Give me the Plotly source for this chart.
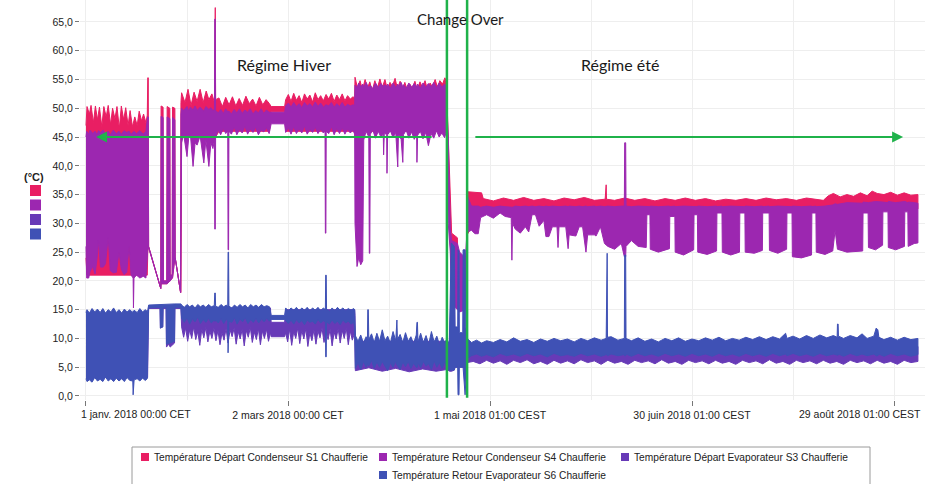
import plotly.graph_objects as go
import pandas as pd

START = pd.Timestamp("2018-01-01 00:00")

# ---------------------------------------------------------------
# Data: envelope of each (very dense) series
# (day offset from 1 Jan 2018 00:00 CET, upper value °C, lower value °C)
# ---------------------------------------------------------------
s1_env = [  # Température Départ Condenseur S1
    (0.0, 47.0, 24.0), (0.3, 50.3, 21.0), (1.0, 49.0, 21.0), (1.5, 50.5, 21.0), (2.2, 47.5, 21.0),
    (2.8, 50.4, 21.0), (3.4, 48.0, 21.0), (4.0, 50.2, 21.0), (4.7, 46.8, 21.0), (5.3, 50.3, 21.0),
    (6.0, 48.5, 21.0), (6.6, 50.5, 21.0), (7.3, 47.2, 21.0), (7.9, 50.0, 21.0), (8.6, 48.2, 21.0),
    (9.2, 50.3, 21.0), (9.9, 46.5, 21.0), (10.5, 50.4, 21.0), (11.2, 48.0, 21.0), (11.8, 50.1, 21.0),
    (12.5, 47.0, 21.0), (13.1, 49.6, 21.0), (13.8, 46.8, 21.0), (14.5, 48.5, 21.0), (15.2, 47.0, 21.0),
    (15.8, 49.5, 21.0), (16.5, 47.8, 21.0), (17.1, 49.0, 21.0), (17.8, 47.5, 21.0), (18.2, 48.8, 21.0),
    (18.35, 55.3, 25.0), (18.5, 55.3, 26.0), (18.6, 26.0, 26.0), (22.2, 18.7, 18.7), (22.3, 50.4, 19.5),
    (22.9, 50.2, 19.5), (23.0, 20.0, 19.5), (24.0, 20.0, 19.5), (24.1, 50.3, 19.5), (24.9, 50.0, 20.0),
    (25.0, 21.0, 20.0), (25.6, 21.0, 20.5), (25.7, 50.2, 20.5), (26.4, 50.0, 24.0), (26.5, 24.0, 24.0),
    (28.1, 18.0, 18.0), (28.2, 51.0, 18.0), (28.4, 52.7, 45.0), (29.4, 51.0, 45.0), (30.3, 53.3, 45.0),
    (31.2, 50.5, 45.0), (32.1, 52.8, 45.0), (33.0, 51.2, 45.0), (33.9, 53.3, 45.0), (34.8, 51.0, 45.0),
    (35.7, 53.0, 45.0), (36.5, 51.5, 45.0), (37.4, 52.5, 45.0), (38.15, 51.0, 45.0), (38.25, 67.5, 45.0),
    (38.4, 67.5, 45.0), (38.5, 51.5, 45.0), (39.5, 51.8, 46.0), (40.5, 50.3, 46.0), (41.5, 51.9, 46.0),
    (42.5, 50.6, 46.0), (43.5, 52.0, 46.0), (44.5, 50.4, 46.0), (45.5, 51.7, 46.0), (46.5, 50.5, 46.0),
    (47.5, 52.1, 46.0), (48.5, 50.8, 46.0), (49.5, 51.6, 46.0), (50.5, 50.4, 46.0), (51.5, 51.9, 46.0),
    (52.5, 50.6, 46.0), (53.5, 51.5, 46.0), (54.5, 50.8, 46.0), (55.0, 50.3, 49.4), (59.0, 50.3, 49.4),
    (59.3, 51.5, 46.0), (60.1, 52.4, 46.0), (60.9, 51.2, 46.0), (61.7, 52.6, 46.0), (62.5, 51.4, 46.0),
    (63.3, 52.2, 46.0), (64.1, 51.0, 46.0), (64.9, 52.5, 46.0), (65.7, 51.6, 46.0), (66.5, 52.3, 46.0),
    (67.3, 51.1, 46.0), (68.1, 52.7, 46.0), (68.9, 51.5, 46.0), (69.7, 52.2, 46.0), (70.5, 51.3, 46.0),
    (71.3, 52.4, 46.0), (72.1, 51.6, 46.0), (72.9, 52.6, 46.0), (73.7, 51.2, 46.0), (74.5, 52.3, 46.0),
    (75.3, 51.5, 46.0), (76.1, 52.5, 46.0), (76.9, 51.3, 46.0), (77.7, 52.2, 46.0), (78.5, 51.6, 46.0),
    (79.3, 52.0, 46.0), (79.8, 51.8, 46.0), (79.9, 55.4, 45.0), (80.6, 53.6, 46.0), (81.4, 54.8, 46.0),
    (82.1, 53.2, 46.0), (82.9, 55.0, 46.0), (83.6, 53.5, 46.0), (84.3, 54.6, 46.0), (85.0, 53.0, 46.0),
    (85.8, 54.8, 46.0), (86.5, 53.4, 46.0), (87.3, 55.1, 46.0), (88.0, 53.6, 46.0), (88.8, 55.0, 46.0),
    (89.5, 53.3, 46.0), (90.3, 54.5, 46.0), (91.0, 53.8, 46.0), (91.8, 55.2, 46.0), (92.5, 53.4, 46.0),
    (93.3, 54.7, 46.0), (94.0, 53.1, 46.0), (94.7, 54.5, 46.0), (95.5, 53.0, 46.0), (96.2, 54.2, 46.0),
    (96.9, 53.5, 46.0), (97.7, 54.7, 46.0), (98.4, 53.2, 46.0), (99.2, 54.6, 46.0), (99.9, 53.6, 46.0),
    (100.7, 54.8, 46.0), (101.4, 53.3, 46.0), (102.2, 54.4, 46.0), (102.9, 53.7, 46.0), (103.7, 55.0, 46.0),
    (104.4, 53.6, 46.0), (105.1, 54.8, 46.0), (105.9, 54.2, 46.0), (106.6, 55.3, 46.0), (107.1, 54.5, 46.0),
    (107.3, 50.0, 40.0), (108.1, 35.0, 28.0), (108.6, 28.3, 22.0), (110.3, 27.5, 20.0), (110.8, 19.0, 15.0),
    (112.4, 18.5, 15.5), (113.0, 17.0, 16.0), (113.2, 35.5, 28.0), (117.5, 35.3, 32.3), (118.0, 34.3, 32.3),
    (121.0, 33.9, 32.3), (124.0, 34.4, 32.3), (127.0, 34.0, 32.3), (130.0, 34.5, 32.3), (133.0, 34.0, 32.3),
    (136.0, 34.3, 32.3), (139.0, 33.9, 32.3), (142.0, 34.4, 32.3), (145.0, 34.1, 32.3), (148.0, 34.5, 32.3),
    (151.0, 34.0, 32.3), (154.2, 34.2, 32.3), (154.3, 36.7, 32.3), (154.5, 36.7, 32.3), (154.6, 34.2, 32.3),
    (157.0, 34.0, 32.3), (160.0, 34.4, 32.3), (163.0, 34.0, 32.3), (166.0, 34.3, 32.3), (169.0, 33.9, 32.3),
    (172.0, 34.3, 32.3), (175.0, 34.0, 32.3), (178.0, 34.4, 32.3), (181.0, 34.0, 32.3), (184.0, 34.3, 32.3),
    (187.0, 33.9, 32.3), (190.0, 34.2, 32.3), (193.0, 34.0, 32.3), (196.0, 34.3, 32.3), (199.0, 34.0, 32.3),
    (202.0, 34.4, 32.3), (205.0, 34.1, 32.3), (208.0, 34.3, 32.3), (211.0, 34.0, 32.3), (214.0, 34.4, 32.3),
    (217.0, 34.2, 32.3), (219.0, 34.0, 32.3), (220.5, 34.8, 32.3), (222.0, 35.2, 32.3), (224.0, 34.6, 32.3),
    (226.0, 35.0, 32.3), (228.0, 34.7, 32.3), (230.0, 35.3, 32.3), (232.0, 34.8, 32.3), (233.5, 35.6, 32.3),
    (235.0, 35.2, 32.3), (237.0, 35.0, 32.3), (239.0, 35.4, 32.3), (241.0, 34.9, 32.3), (243.0, 35.3, 32.3),
    (245.0, 34.9, 32.3), (247.1, 35.0, 32.5),
]

s4_env = [  # Température Retour Condenseur S4
    (0.0, 45.0, 26.0), (0.2, 46.0, 20.5), (0.8, 45.5, 20.5), (1.2, 46.2, 21.6), (2.0, 45.6, 22.5),
    (2.7, 46.0, 21.2), (3.3, 45.4, 24.0), (3.7, 46.1, 27.0), (4.3, 45.8, 22.4), (5.1, 46.2, 22.4),
    (5.8, 45.5, 23.0), (6.6, 46.0, 27.6), (7.2, 45.4, 21.8), (8.1, 46.2, 21.4), (9.0, 45.6, 21.5),
    (9.8, 46.0, 25.0), (10.5, 45.5, 22.0), (11.3, 46.1, 21.1), (12.1, 45.8, 21.5), (12.8, 46.0, 26.0),
    (13.4, 45.5, 21.0), (14.0, 46.0, 20.5), (14.1, 46.0, 15.3), (14.25, 46.0, 20.5), (15.0, 45.6, 21.0),
    (16.0, 46.1, 20.5), (17.0, 45.5, 20.8), (17.8, 46.0, 20.5), (18.3, 48.5, 25.0), (18.5, 48.5, 26.0),
    (18.6, 26.0, 26.0), (22.2, 18.7, 18.7), (22.3, 48.6, 19.5), (22.9, 48.4, 19.5), (23.0, 20.0, 19.5),
    (24.0, 20.0, 19.5), (24.1, 48.5, 19.5), (24.9, 48.2, 20.0), (25.0, 21.0, 20.0), (25.6, 21.0, 20.5),
    (25.7, 48.4, 20.5), (26.4, 48.0, 24.0), (26.5, 24.0, 24.0), (28.1, 18.0, 18.0), (28.2, 49.0, 18.0),
    (28.4, 50.0, 44.0), (29.0, 49.6, 45.5), (30.0, 50.3, 41.6), (30.5, 49.5, 44.8), (31.0, 50.2, 45.5),
    (31.8, 49.7, 39.9), (32.4, 50.4, 44.0), (33.0, 49.6, 43.6), (33.9, 50.2, 45.2), (35.0, 49.5, 40.5),
    (35.6, 50.3, 44.5), (36.5, 49.8, 39.9), (37.1, 50.1, 44.0), (37.7, 49.6, 43.0), (38.15, 49.8, 44.5),
    (38.25, 65.5, 29.0), (38.4, 65.5, 29.0), (38.5, 49.6, 45.0), (39.3, 49.2, 46.2), (40.0, 49.8, 45.4),
    (40.8, 49.1, 46.5), (41.5, 49.9, 45.6), (42.1, 49.3, 46.0), (42.2, 49.3, 25.4), (42.35, 49.5, 25.4),
    (42.45, 49.5, 46.0), (43.2, 49.0, 45.5), (44.0, 49.8, 46.8), (44.8, 49.2, 45.4), (45.6, 49.9, 46.3),
    (46.4, 49.1, 45.7), (47.2, 49.7, 46.9), (48.0, 49.3, 45.5), (48.8, 49.9, 46.4), (49.6, 49.0, 45.8),
    (50.4, 49.6, 46.7), (51.2, 49.2, 45.4), (52.0, 49.9, 46.2), (52.8, 49.1, 45.9), (53.6, 49.7, 46.6),
    (54.4, 49.3, 45.6), (55.0, 49.3, 47.3), (59.0, 49.3, 47.3), (59.3, 50.4, 45.8), (60.1, 50.9, 46.6),
    (60.9, 50.2, 45.5), (61.7, 51.0, 46.8), (62.5, 50.3, 45.6), (63.3, 50.8, 46.4), (64.1, 50.1, 45.7),
    (64.9, 51.0, 46.9), (65.7, 50.4, 45.5), (66.5, 50.8, 46.3), (67.3, 50.2, 45.8), (68.1, 51.1, 46.7),
    (68.9, 50.3, 45.6), (69.7, 50.9, 46.4), (70.5, 50.2, 45.7), (71.0, 50.6, 46.0), (71.1, 50.6, 28.3),
    (71.25, 50.6, 28.3), (71.35, 50.6, 46.0), (72.1, 50.4, 45.6), (72.9, 51.0, 46.8), (73.7, 50.2, 45.4),
    (74.5, 50.8, 46.5), (75.3, 50.3, 45.6), (76.1, 51.0, 46.6), (76.9, 50.2, 45.5), (77.7, 50.7, 46.4),
    (78.5, 50.4, 45.7), (79.3, 50.6, 46.2), (79.8, 50.5, 45.5), (79.9, 54.0, 30.0), (80.5, 53.6, 22.5),
    (81.0, 54.4, 24.0), (81.6, 53.7, 22.8), (82.2, 54.2, 23.5), (82.5, 53.6, 44.5), (83.2, 54.5, 46.0),
    (84.0, 53.5, 45.0), (84.15, 53.8, 24.8), (84.3, 53.8, 24.8), (84.45, 54.0, 45.5), (85.2, 53.4, 46.2),
    (86.0, 54.4, 44.8), (86.8, 53.6, 46.0), (87.6, 54.3, 45.0), (88.3, 53.7, 45.5), (88.4, 53.7, 41.9),
    (88.6, 54.1, 45.6), (89.3, 53.8, 45.5), (89.4, 53.8, 38.7), (89.6, 54.2, 45.4), (90.4, 53.5, 46.1),
    (91.2, 54.4, 44.9), (92.0, 53.6, 45.8), (92.6, 54.2, 39.8), (92.8, 53.8, 45.5), (93.6, 54.5, 44.6),
    (94.1, 53.7, 40.6), (94.3, 54.1, 45.4), (95.1, 53.5, 46.2), (95.9, 54.4, 44.8), (96.7, 53.6, 45.9),
    (97.5, 54.3, 44.6), (98.2, 53.7, 45.5), (98.3, 53.7, 40.6), (98.5, 54.2, 45.3), (99.3, 53.5, 46.0),
    (100.1, 54.4, 44.7), (100.9, 53.6, 45.8), (101.7, 54.3, 43.5), (102.5, 53.7, 45.6), (103.3, 54.5, 44.8),
    (104.1, 53.6, 46.1), (104.9, 54.4, 45.0), (105.7, 53.7, 45.7), (106.5, 54.2, 44.9), (107.1, 53.8, 46.0),
    (107.2, 50.0, 44.0), (107.6, 45.0, 30.0), (108.2, 29.0, 25.0), (108.6, 27.0, 16.0), (110.3, 26.5, 15.0),
    (111.0, 25.0, 14.6), (112.7, 24.0, 15.0), (113.1, 28.0, 27.0), (113.25, 34.8, 28.5), (114.5, 33.0, 28.8),
    (115.5, 33.0, 28.2), (116.5, 33.0, 28.2), (117.2, 32.8, 31.0), (119.0, 33.0, 31.5), (121.0, 32.8, 30.9),
    (123.0, 33.0, 31.8), (124.5, 32.9, 31.2), (126.3, 32.8, 31.0), (126.5, 32.8, 23.6), (126.7, 32.8, 30.0),
    (127.5, 33.0, 29.0), (129.0, 32.9, 28.3), (130.5, 33.0, 29.4), (131.5, 32.9, 28.5), (132.5, 33.0, 31.5),
    (133.5, 32.9, 31.5), (134.6, 33.0, 29.5), (136.0, 32.9, 30.5), (136.6, 33.0, 27.7), (137.5, 32.9, 27.7),
    (138.5, 33.0, 29.4), (139.9, 32.9, 29.4), (140.2, 33.0, 25.8), (140.5, 32.9, 29.4), (142.5, 33.0, 29.4),
    (143.2, 32.9, 25.6), (143.5, 33.0, 28.0), (145.5, 32.9, 27.8), (146.5, 33.0, 29.4), (147.5, 32.9, 29.4),
    (148.5, 33.0, 25.0), (149.0, 32.9, 28.0), (151.0, 33.0, 28.0), (151.5, 32.9, 27.8), (152.8, 33.0, 29.4),
    (154.0, 32.9, 26.5), (155.0, 33.0, 26.0), (157.0, 32.9, 25.5), (159.0, 33.0, 26.5), (159.9, 33.0, 24.2),
    (160.0, 44.0, 24.2), (160.3, 44.0, 24.2), (160.4, 33.0, 26.0), (162.0, 32.9, 27.0), (164.0, 33.0, 26.0),
    (166.4, 32.9, 25.8), (166.6, 33.0, 31.5), (167.5, 32.9, 31.5), (167.6, 33.0, 25.5), (170.0, 32.9, 25.0),
    (173.3, 33.0, 25.6), (173.4, 32.9, 31.2), (174.9, 33.0, 31.2), (175.0, 32.9, 25.0), (177.5, 33.0, 24.5),
    (180.5, 32.9, 25.4), (180.6, 33.0, 31.5), (181.6, 32.9, 31.5), (181.7, 33.0, 25.0), (184.5, 32.9, 24.6),
    (187.3, 33.0, 25.2), (187.4, 32.9, 31.8), (188.9, 33.0, 31.8), (189.0, 32.9, 25.0), (191.5, 33.0, 24.5),
    (194.1, 32.9, 25.0), (194.2, 33.0, 31.8), (195.7, 32.9, 31.8), (195.8, 33.0, 25.0), (198.5, 32.9, 24.8),
    (200.9, 33.0, 25.3), (201.0, 32.9, 31.8), (202.9, 33.0, 31.8), (203.0, 32.9, 25.3), (205.5, 33.0, 24.8),
    (208.1, 32.9, 25.5), (208.2, 33.0, 31.8), (209.7, 32.9, 31.8), (209.8, 33.0, 24.2), (212.5, 32.9, 24.0),
    (215.5, 33.0, 24.5), (215.6, 32.9, 31.8), (216.8, 33.0, 31.8), (216.9, 32.9, 25.0), (219.5, 33.0, 24.6),
    (221.8, 33.2, 25.2), (222.5, 33.4, 28.8), (223.2, 33.3, 25.5), (226.0, 33.6, 25.0), (230.7, 33.5, 25.2),
    (230.8, 33.7, 31.8), (232.3, 33.6, 31.8), (232.4, 33.6, 25.8), (234.5, 33.8, 25.4), (236.6, 33.6, 26.2),
    (236.7, 33.7, 32.0), (238.2, 33.6, 32.0), (238.3, 33.8, 25.8), (240.5, 33.6, 25.4), (243.1, 33.7, 26.0),
    (243.2, 33.8, 32.0), (244.1, 33.6, 32.0), (244.2, 33.7, 26.0), (246.0, 33.6, 26.5), (247.1, 33.5, 26.6),
]

s3_env = [  # Température Départ Evaporateur S3
    (0.0, 14.2, 3.2), (9.0, 14.3, 3.3), (18.3, 14.2, 3.2), (18.5, 15.0, 3.5), (18.6, 15.6, 15.2),
    (22.0, 15.6, 15.2), (22.1, 15.6, 11.8), (22.8, 15.6, 12.0), (22.9, 15.6, 15.2), (23.8, 15.6, 15.2),
    (23.9, 15.6, 8.5), (24.6, 15.6, 9.0), (25.0, 15.6, 8.5), (26.3, 15.6, 9.2), (26.4, 15.6, 15.2),
    (28.2, 15.6, 15.2), (28.4, 15.3, 12.0), (29.0, 15.3, 10.2), (29.6, 15.3, 11.8), (30.2, 15.3, 9.5),
    (30.8, 15.3, 11.5), (31.4, 15.3, 10.0), (32.0, 15.3, 12.0), (32.6, 15.3, 9.8), (33.2, 15.3, 11.2),
    (33.8, 15.3, 8.8), (34.4, 15.3, 11.6), (35.0, 15.3, 10.1), (35.6, 15.3, 11.9), (36.2, 15.3, 9.4),
    (36.8, 15.3, 11.3), (37.4, 15.3, 10.0), (38.0, 15.3, 11.8), (38.6, 15.3, 9.6), (39.2, 15.3, 11.4),
    (39.8, 15.3, 8.9), (40.4, 15.3, 11.0), (41.0, 15.3, 9.7), (41.6, 15.3, 11.7), (42.2, 15.3, 9.2),
    (42.8, 15.3, 11.5), (43.4, 15.3, 10.3), (44.0, 15.3, 11.8), (44.6, 15.3, 9.0), (45.2, 15.3, 11.2),
    (45.8, 15.3, 9.9), (46.4, 15.3, 11.6), (47.0, 15.3, 8.7), (47.6, 15.3, 11.4), (48.2, 15.3, 10.2),
    (48.8, 15.3, 11.9), (49.4, 15.3, 9.3), (50.0, 15.3, 11.1), (50.6, 15.3, 9.8), (51.2, 15.3, 11.7),
    (51.8, 15.3, 8.9), (52.4, 15.3, 11.3), (53.0, 15.3, 10.0), (53.6, 15.3, 11.6), (54.2, 15.3, 9.5),
    (54.8, 15.3, 11.0), (55.0, 12.8, 10.3), (59.0, 12.8, 10.3), (59.3, 15.0, 11.0), (59.9, 15.0, 9.4),
    (60.5, 15.0, 11.6), (61.1, 15.0, 8.8), (61.7, 15.0, 11.2), (62.3, 15.0, 10.0), (62.9, 15.0, 11.8),
    (63.5, 15.0, 9.1), (64.1, 15.0, 11.4), (64.7, 15.0, 9.9), (65.3, 15.0, 11.7), (65.9, 15.0, 8.6),
    (66.5, 15.0, 11.0), (67.1, 15.0, 9.6), (67.7, 15.0, 11.5), (68.3, 15.0, 9.0), (68.9, 15.0, 11.3),
    (69.5, 15.0, 10.1), (70.1, 15.0, 11.8), (70.7, 15.0, 9.3), (71.3, 15.0, 11.2), (71.9, 15.0, 9.8),
    (72.5, 15.0, 11.6), (73.1, 15.0, 8.7), (73.7, 15.0, 11.1), (74.3, 15.0, 9.9), (74.9, 15.0, 11.7),
    (75.5, 15.0, 9.2), (76.1, 15.0, 11.4), (76.7, 15.0, 10.0), (77.3, 15.0, 11.8), (77.9, 15.0, 8.9),
    (78.5, 15.0, 11.3), (79.1, 15.0, 9.7), (79.8, 15.0, 11.0), (79.9, 14.0, 8.0), (80.0, 9.5, 4.4),
    (84.0, 9.5, 4.9), (88.0, 9.5, 4.3), (92.0, 9.5, 4.8), (96.0, 9.5, 4.2), (100.0, 9.5, 4.7),
    (104.0, 9.5, 4.3), (107.2, 9.5, 4.6), (108.0, 9.0, 4.3), (108.6, 22.0, 4.3), (109.4, 21.0, 4.5),
    (109.6, 10.0, 5.0), (112.8, 10.0, 5.0), (113.2, 9.0, 5.8), (115.0, 8.6, 6.0), (117.0, 8.6, 5.6),
    (119.0, 8.6, 6.2), (121.0, 8.6, 5.7), (123.0, 8.6, 6.1), (125.0, 8.6, 5.5), (127.0, 8.6, 6.2),
    (129.0, 8.6, 5.8), (131.0, 8.6, 6.3), (133.0, 8.6, 5.6), (135.0, 8.6, 6.0), (137.0, 8.6, 5.5),
    (139.0, 8.6, 6.2), (141.0, 8.6, 5.7), (143.0, 8.6, 6.1), (145.0, 8.6, 5.6), (147.0, 8.6, 6.3),
    (149.0, 8.6, 5.8), (151.0, 8.6, 6.1), (153.0, 8.6, 5.5), (155.0, 8.6, 6.2), (157.0, 8.6, 5.7),
    (159.0, 8.6, 6.0), (161.0, 8.6, 5.5), (163.0, 8.6, 6.2), (165.0, 8.6, 5.8), (167.0, 8.6, 6.1),
    (169.0, 8.6, 5.6), (171.0, 8.6, 6.3), (173.0, 8.6, 5.7), (175.0, 8.6, 6.0), (177.0, 8.6, 5.5),
    (179.0, 8.6, 6.2), (181.0, 8.6, 5.8), (183.0, 8.6, 6.1), (185.0, 8.6, 5.6), (187.0, 8.6, 6.2),
    (189.0, 8.6, 5.7), (191.0, 8.6, 6.0), (193.0, 8.6, 5.5), (195.0, 8.6, 6.2), (197.0, 8.6, 5.8),
    (199.0, 8.6, 6.1), (201.0, 8.6, 5.6), (203.0, 8.6, 6.3), (205.0, 8.6, 5.7), (207.0, 8.6, 6.0),
    (209.0, 8.6, 5.5), (211.0, 8.6, 6.2), (213.0, 8.6, 5.8), (215.0, 8.6, 6.1), (217.0, 8.6, 5.6),
    (219.0, 8.6, 6.2), (221.0, 8.6, 5.7), (223.0, 8.6, 6.0), (225.0, 8.6, 5.5), (227.0, 8.6, 6.2),
    (229.0, 8.6, 5.8), (231.0, 8.6, 6.1), (233.0, 8.6, 5.6), (235.0, 8.6, 6.2), (237.0, 8.6, 5.7),
    (239.0, 8.6, 6.0), (241.0, 8.6, 5.5), (243.0, 8.6, 6.2), (245.0, 8.6, 5.8), (247.1, 8.6, 6.0),
]

s6_env = [  # Température Retour Evaporateur S6
    (0.0, 14.5, 3.0), (0.3, 15.0, 2.5), (1.0, 14.4, 2.8), (1.8, 15.2, 2.4), (2.6, 14.6, 3.2),
    (3.4, 15.1, 2.6), (4.2, 14.5, 2.9), (5.0, 15.2, 2.5), (5.8, 14.4, 3.3), (6.6, 15.0, 2.6),
    (7.4, 14.6, 3.0), (8.2, 15.3, 2.5), (9.0, 14.5, 3.1), (9.8, 15.0, 2.6), (10.6, 14.4, 3.0),
    (11.4, 15.1, 2.5), (12.2, 14.6, 3.2), (13.0, 15.0, 2.7), (13.9, 14.5, 2.6), (14.0, 14.8, 0.2),
    (14.2, 14.6, 0.2), (14.3, 14.9, 2.8), (15.2, 14.5, 3.0), (16.0, 15.2, 2.6), (16.8, 14.6, 3.1),
    (17.6, 15.0, 2.7), (18.2, 14.7, 3.0), (18.4, 15.0, 3.0), (18.6, 15.8, 15.3), (22.0, 15.9, 15.4),
    (22.1, 15.9, 11.8), (22.8, 15.9, 12.0), (22.9, 16.0, 15.4), (23.8, 16.0, 15.4), (23.9, 16.0, 9.0),
    (26.3, 16.0, 9.5), (26.4, 16.0, 15.4), (28.2, 16.0, 15.3), (28.4, 15.8, 13.5), (29.2, 15.4, 12.8),
    (30.0, 15.9, 13.6), (30.8, 15.5, 12.5), (31.6, 15.8, 13.4), (32.4, 15.3, 12.9), (33.2, 15.9, 13.7),
    (34.0, 15.5, 12.6), (34.8, 15.8, 13.3), (35.6, 15.4, 12.8), (36.4, 15.9, 13.5), (37.2, 15.5, 12.7),
    (38.1, 15.7, 13.2), (38.25, 17.9, 13.0), (38.4, 17.9, 13.0), (38.5, 15.6, 13.2), (39.3, 15.4, 12.7),
    (40.1, 15.9, 13.5), (40.9, 15.5, 12.6), (41.7, 15.8, 13.4), (42.1, 15.5, 13.0), (42.2, 25.0, 7.5),
    (42.35, 25.0, 7.5), (42.45, 15.6, 13.0), (43.3, 15.3, 12.8), (44.1, 15.8, 13.6), (44.9, 15.4, 12.5),
    (45.7, 15.9, 13.4), (46.5, 15.5, 12.9), (47.3, 15.8, 13.6), (48.1, 15.3, 12.6), (48.9, 15.9, 13.3),
    (49.7, 15.5, 12.8), (50.5, 15.8, 13.5), (51.3, 15.4, 12.7), (52.1, 15.9, 13.4), (52.9, 15.5, 12.9),
    (53.7, 15.7, 13.5), (54.5, 15.5, 13.0), (55.0, 14.0, 13.3), (59.0, 14.0, 13.3), (59.3, 15.3, 13.0),
    (60.1, 14.8, 12.6), (60.9, 15.3, 13.2), (61.7, 14.9, 12.5), (62.5, 15.4, 13.3), (63.3, 14.8, 12.7),
    (64.1, 15.3, 13.1), (64.9, 14.9, 12.4), (65.7, 15.4, 13.2), (66.5, 14.8, 12.8), (67.3, 15.3, 13.0),
    (68.1, 14.9, 12.5), (68.9, 15.4, 13.3), (69.7, 14.8, 12.7), (70.5, 15.3, 13.1), (71.1, 15.0, 12.8),
    (71.2, 21.0, 6.8), (71.35, 21.0, 6.8), (71.45, 15.1, 12.9), (72.3, 14.7, 12.5), (73.1, 15.3, 13.2),
    (73.9, 14.8, 12.6), (74.7, 15.4, 13.0), (75.5, 14.9, 12.4), (76.3, 15.3, 13.2), (77.1, 14.8, 12.7),
    (77.9, 15.2, 13.0), (78.7, 14.9, 12.5), (79.5, 15.2, 12.8), (79.8, 15.0, 12.0), (80.0, 10.5, 4.8),
    (80.8, 9.5, 5.8), (81.6, 10.6, 4.6), (82.4, 9.2, 6.0), (83.2, 10.3, 5.0), (83.6, 10.0, 5.5),
    (83.7, 15.0, 5.5), (83.85, 15.0, 5.5), (84.0, 9.8, 5.2), (84.8, 10.8, 6.2), (85.6, 9.3, 4.8),
    (86.4, 10.9, 5.9), (87.2, 9.5, 5.0), (88.0, 11.5, 6.0), (88.8, 9.6, 5.2), (89.6, 10.4, 4.4),
    (90.4, 9.2, 5.8), (91.2, 11.2, 5.0), (92.0, 9.6, 6.1), (92.2, 13.2, 5.5), (92.35, 13.2, 5.5),
    (92.5, 9.8, 5.3), (93.3, 10.7, 4.6), (94.1, 9.3, 5.9), (94.9, 11.0, 5.1), (95.7, 9.5, 6.0),
    (96.5, 10.3, 4.8), (97.3, 9.1, 5.7), (98.1, 10.6, 5.0), (98.3, 12.8, 5.0), (98.45, 12.8, 5.0),
    (98.6, 9.4, 5.8), (99.4, 10.9, 4.9), (100.2, 9.3, 6.0), (101.0, 10.5, 5.2), (101.8, 9.0, 5.6),
    (102.6, 11.2, 4.6), (103.4, 9.4, 6.1), (104.2, 10.4, 5.0), (105.0, 8.9, 5.8), (105.8, 10.2, 4.8),
    (106.6, 9.2, 6.0), (107.2, 10.0, 5.0), (107.9, 9.0, 4.5), (108.5, 26.6, 4.5), (109.4, 26.0, 4.5),
    (109.6, 12.0, 5.0), (110.4, 12.0, 5.0), (110.5, 25.4, 0.2), (110.8, 25.0, 0.2), (110.9, 11.0, 5.0),
    (111.9, 11.0, 5.0), (112.0, 25.4, 5.0), (112.6, 25.4, 0.2), (112.8, 12.0, 0.2), (113.2, 10.0, 6.5),
    (114.5, 9.3, 7.0), (116.0, 9.7, 7.3), (117.5, 9.2, 6.9), (119.0, 9.6, 7.2), (121.0, 9.3, 6.8),
    (123.0, 9.8, 7.4), (125.0, 9.4, 7.0), (127.0, 10.1, 7.3), (129.0, 9.5, 6.9), (131.0, 9.8, 7.4),
    (133.0, 9.3, 7.0), (135.0, 9.9, 7.3), (137.0, 9.5, 6.8), (139.0, 10.0, 7.4), (141.0, 9.6, 7.0),
    (143.0, 9.9, 7.2), (145.0, 9.4, 6.9), (147.0, 10.0, 7.4), (149.0, 9.6, 7.0), (151.0, 10.1, 7.3),
    (153.0, 9.7, 6.9), (154.5, 10.0, 7.2), (154.6, 24.8, 7.2), (154.8, 24.8, 7.2), (154.9, 10.2, 7.0),
    (156.0, 10.3, 7.3), (158.0, 9.7, 7.0), (159.9, 10.0, 7.2), (160.0, 24.5, 7.0), (160.3, 24.5, 7.0),
    (160.4, 10.0, 7.3), (162.0, 9.6, 6.9), (164.0, 10.1, 7.4), (166.0, 9.5, 7.0), (168.0, 9.9, 7.3),
    (170.0, 9.4, 6.9), (172.0, 10.0, 7.4), (174.0, 9.6, 7.0), (176.0, 10.1, 7.3), (178.0, 9.5, 6.9),
    (180.0, 9.9, 7.4), (182.0, 9.6, 7.0), (184.0, 10.1, 7.3), (186.0, 9.7, 6.9), (188.0, 10.2, 7.4),
    (190.0, 9.6, 7.0), (192.0, 10.0, 7.3), (194.0, 9.7, 6.9), (196.0, 10.2, 7.4), (198.0, 9.8, 7.0),
    (200.0, 10.3, 7.3), (202.0, 9.8, 6.9), (204.0, 10.3, 7.4), (206.0, 9.9, 7.0), (207.8, 10.9, 7.3),
    (208.2, 10.0, 7.0), (210.0, 10.4, 7.4), (212.0, 9.9, 7.0), (214.0, 10.5, 7.3), (216.0, 10.0, 6.9),
    (218.0, 10.6, 7.4), (220.0, 10.1, 7.0), (222.0, 10.5, 7.3), (223.1, 10.2, 7.1), (223.2, 12.5, 7.1),
    (223.4, 12.5, 7.1), (223.5, 10.4, 7.3), (225.0, 10.0, 6.9), (227.0, 10.5, 7.4), (229.0, 10.1, 7.0),
    (230.5, 10.8, 7.3), (232.0, 10.0, 7.0), (234.0, 10.4, 7.3), (234.7, 11.8, 7.0), (235.2, 11.5, 7.0),
    (235.5, 10.2, 7.3), (237.0, 9.8, 6.9), (239.0, 10.2, 7.4), (241.0, 9.7, 7.0), (243.0, 10.2, 7.3),
    (245.0, 9.8, 6.9), (247.1, 10.0, 7.2),
]

series_names = [
    "Température Départ Condenseur S1 Chaufferie",
    "Température Retour Condenseur S4 Chaufferie",
    "Température Départ Evaporateur S3 Chaufferie",
    "Température Retour Evaporateur S6 Chaufferie",
]
series_colors = ["#E91E63", "#9C27B0", "#673AB7", "#3F51B5"]
series_envs = [s1_env, s4_env, s3_env, s6_env]

x_tick_days = [0, 60, 120, 180, 240]
x_tick_labels = ["1 janv. 2018 00:00 CET", "2 mars 2018 00:00 CET", "1 mai 2018 01:00 CEST",
                 "30 juin 2018 01:00 CEST", "29 août 2018 01:00 CEST"]
x_grid_days = [30, 90, 150, 210]

changeover_days = [107.2, 113.2]
hiver_arrow_days = (103.1, 3.0)     # tail, head
ete_arrow_days = (115.2, 242.7)     # tail, head
arrow_level = 45.0


def day(d):
    return START + pd.Timedelta(days=d)


GREEN = "#1fb24a"
FONT = "Liberation Sans"

fig = go.Figure()
for name, color, env in zip(series_names, series_colors, series_envs):
    d = [e[0] for e in env]
    hi = [e[1] for e in env]
    lo = [e[2] for e in env]
    xs = [day(v) for v in d + d[::-1]]
    ys = hi + lo[::-1]
    fig.add_trace(go.Scatter(x=xs, y=ys, mode="lines", fill="toself", fillcolor=color,
                             line=dict(color=color, width=1), name=name,
                             showlegend=False, hoverinfo="skip"))

# plot area in pixels (for the legend / unit label placed outside)
PL, PR, PT, PB = 80, 925, 0, 400


def px(x):
    return (x - PL) / (PR - PL)


def py(y):
    return 1 - (y - PT) / (PB - PT)


shapes = []
for dd in changeover_days:
    shapes.append(dict(type="line", xref="x", yref="y", x0=day(dd), x1=day(dd), y0=-0.3, y1=70,
                       line=dict(color=GREEN, width=2.5)))

annotations = []
# arrows
for tail, head in (hiver_arrow_days, ete_arrow_days):
    annotations.append(dict(x=day(head), y=arrow_level, ax=day(tail), ay=arrow_level,
                            xref="x", yref="y", axref="x", ayref="y", text="", showarrow=True,
                            arrowhead=2, arrowsize=1.1, arrowwidth=2, arrowcolor=GREEN, standoff=0))
# region texts
for txt, cx, cy, fs in (("Change Over", 460, 19, 15), ("Régime Hiver", 284, 65, 16), ("Régime été", 620, 65, 16)):
    annotations.append(dict(x=px(cx), y=py(cy), xref="paper", yref="paper", text=txt, showarrow=False,
                            xanchor="center", yanchor="middle", font=dict(family="Lato", size=fs, color="#1a1a1a")))

# first / last x labels (kept inside the plot like the original)
annotations.append(dict(x=day(x_tick_days[0]), y=py(406), xref="x", yref="paper", text=x_tick_labels[0],
                        showarrow=False, xanchor="left", yanchor="top", xshift=-7,
                        font=dict(family=FONT, size=10.5, color="#222")))
annotations.append(dict(x=day(x_tick_days[-1]), y=py(406), xref="x", yref="paper", text=x_tick_labels[-1],
                        showarrow=False, xanchor="right", yanchor="top", xshift=29,
                        font=dict(family=FONT, size=10.5, color="#222")))

# unit label with colour squares
annotations.append(dict(x=px(34), y=py(177), xref="paper", yref="paper", text="<b>(°C)</b>", showarrow=False,
                        xanchor="center", yanchor="middle", font=dict(family=FONT, size=11, color="#222")))
for i, color in enumerate(series_colors):
    y0 = 185 + i * 14.5
    shapes.append(dict(type="rect", xref="paper", yref="paper", x0=px(30), x1=px(41), y0=py(y0 + 11), y1=py(y0),
                       fillcolor=color, line=dict(width=0)))

# legend box
shapes.append(dict(type="rect", xref="paper", yref="paper", x0=px(132), x1=px(870), y0=py(492), y1=py(447),
                   fillcolor="rgba(0,0,0,0)", line=dict(color="#9a9a9a", width=1)))
legend_pos = [(141, 457), (379, 457), (621, 457), (379, 475)]
for (lx, ly), name, color in zip(legend_pos, series_names, series_colors):
    shapes.append(dict(type="rect", xref="paper", yref="paper", x0=px(lx), x1=px(lx + 8),
                       y0=py(ly + 4), y1=py(ly - 4), fillcolor=color, line=dict(width=0)))
    annotations.append(dict(x=px(lx + 11), y=py(ly), xref="paper", yref="paper", text=name, showarrow=False,
                            xanchor="left", yanchor="middle", font=dict(family=FONT, size=10.2, color="#222")))

fig.update_layout(
    width=930, height=484,
    margin=dict(l=PL, r=930 - PR, t=PT, b=484 - PB),
    paper_bgcolor="white", plot_bgcolor="white",
    separators=", ",
    showlegend=False,
    hovermode=False,
    shapes=shapes, annotations=annotations,
    xaxis=dict(type="date", range=[day(-1.78), day(249.2)],
               tickvals=[day(v) for v in x_tick_days],
               ticktext=[""] + x_tick_labels[1:-1] + [""],
               ticks="outside", ticklen=5, tickcolor="#777", tickwidth=1,
               showgrid=True, gridcolor="#eeeeee", zeroline=False, showline=False,
               minor=dict(tickvals=[day(v) for v in x_grid_days], showgrid=True, gridcolor="#eeeeee", ticks=""),
               tickfont=dict(family=FONT, size=10.5, color="#222")),
    yaxis=dict(range=[-0.7, 68.82], dtick=5, tick0=0, tickformat=".1f",
               ticks="outside", ticklen=4, tickcolor="#777",
               showgrid=True, gridcolor="#eeeeee", zeroline=False, showline=False,
               tickfont=dict(family=FONT, size=10.5, color="#222")),
)

fig.write_html("out.html", config={"displayModeBar": False},
               post_script="document.body.style.margin='0px';")
